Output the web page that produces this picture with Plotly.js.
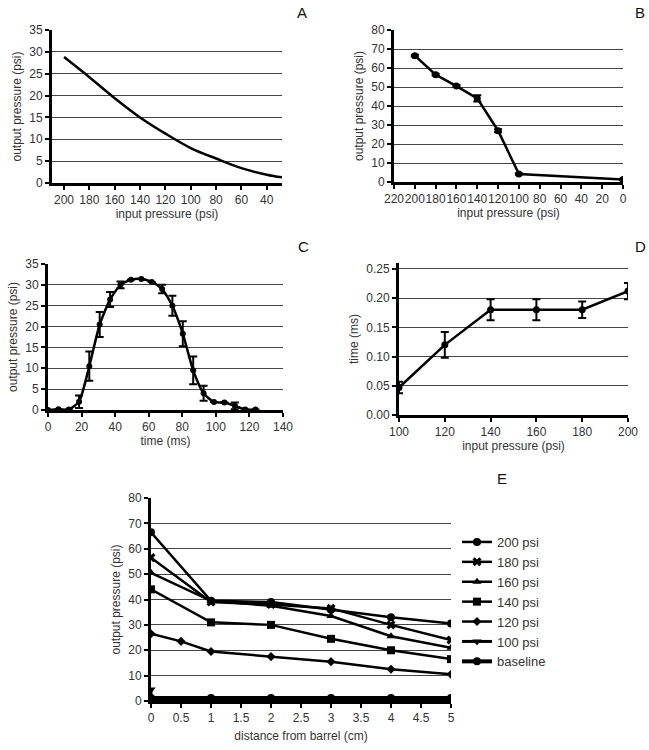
<!DOCTYPE html>
<html>
<head>
<meta charset="utf-8">
<script src="https://cdn.plot.ly/plotly-3.0.1.min.js"></script>
<style>
  body { margin: 0; background: #fff; }
  #chart { width: 649px; height: 750px; }
</style>
</head>
<body>
<div id="chart"></div>
<script>
// panel A: output vs input pressure (fitted curve)
var aInput = [200, 180, 160, 140, 120, 100, 80, 60, 40, 28];
var aOutput = [28.8, 24.2, 19.4, 15.0, 11.3, 8.0, 5.6, 3.4, 1.9, 1.3];

// panel B
var bInput = [200, 180, 160, 140, 120, 100, 0];
var bOutput = [66.5, 56.5, 50.5, 44.0, 27.0, 4.2, 1.3];
var bErr = [0.5, 0.5, 0.5, 1.6, 0.8, 0.4, 0.4];

// panel C: pressure pulse over time
var cTime = [0, 6.2, 12.4, 18.5, 24.6, 30.8, 37.0, 43.2, 49.4, 55.6, 61.8, 68.0, 74.1, 80.3, 86.5, 92.7, 98.9, 105.1, 111.3, 117.5, 123.6];
var cOutput = [0, 0.2, 0.1, 2.0, 10.5, 20.5, 26.5, 30.0, 31.2, 31.4, 30.7, 29.0, 25.0, 18.3, 9.5, 4.0, 1.9, 1.8, 1.0, 0.1, 0.1];
var cErr = [0, 0, 0, 1.5, 3.5, 3.0, 1.8, 0.8, 0, 0, 0, 1.0, 2.4, 3.0, 3.3, 1.8, 0, 0, 0.8, 0, 0];

// panel D: time vs input pressure
var dInput = [100, 120, 140, 160, 180, 200];
var dTime = [0.047, 0.120, 0.180, 0.180, 0.180, 0.212];
var dErr = [0.010, 0.022, 0.018, 0.018, 0.014, 0.014];

// panel E: output pressure vs distance from barrel
var eDist = [0, 1, 2, 3, 4, 5];
var eDist120 = [0, 0.5, 1, 2, 3, 4, 5];
var eDist100 = [0, 0, 1, 2, 3, 4, 5];
var e200 = [66.5, 39.5, 39.0, 36.0, 33.0, 30.5];
var e180 = [56.5, 39.0, 38.0, 36.5, 30.0, 24.0];
var e160 = [50.5, 39.5, 37.5, 33.5, 25.5, 21.0];
var e140 = [44.0, 31.0, 30.0, 24.5, 20.0, 16.5];
var e120 = [26.5, 23.5, 19.5, 17.5, 15.5, 12.5, 10.5];
var e100 = [4.5, 0.5, 0.5, 0.5, 0.5, 0.5, 0.5];
var eBase = [1.2, 1.2, 1.2, 1.2, 1.2, 1.2];

var W = 649, H = 750;
function px(a, b) { return [a / W, b / W]; }
function py(top, bottom) { return [1 - bottom / H, 1 - top / H]; }

var textFont = { family: 'Liberation Sans, Arial, sans-serif', size: 12, color: '#333' };
var lineStyle = { color: '#000', width: 2.5 };

function xAx(domain, range, dtick, anchor, title, standoff) {
    return {
        domain: domain, range: range, dtick: dtick, tick0: 0, anchor: anchor,
        showline: true, linecolor: '#000', linewidth: 3,
        ticks: 'outside', ticklen: 4, tickwidth: 2, tickcolor: '#000',
        showgrid: false, zeroline: false, tickfont: textFont, tickangle: 0,
        title: { text: title, font: textFont, standoff: standoff }
    };
}
function yAx(domain, range, dtick, anchor, title, fmt) {
    return {
        domain: domain, range: range, dtick: dtick, tick0: 0, anchor: anchor,
        showline: true, linecolor: '#000', linewidth: 3,
        ticks: 'outside', ticklen: 4, tickwidth: 2, tickcolor: '#000',
        showgrid: true, gridcolor: '#444', gridwidth: 1, zeroline: false,
        tickfont: textFont, tickformat: fmt || '',
        title: { text: title, font: textFont, standoff: 6 }
    };
}

var data = [
    { x: aInput, y: aOutput, type: 'scatter', mode: 'lines', line: { color: '#000', width: 2.5, shape: 'spline' },
      xaxis: 'x', yaxis: 'y', showlegend: false },
    { x: bInput, y: bOutput, type: 'scatter', mode: 'lines+markers', line: lineStyle,
      marker: { color: '#000', size: 7 }, error_y: { array: bErr, color: '#000', thickness: 2, width: 4 },
      xaxis: 'x2', yaxis: 'y2', showlegend: false },
    { x: cTime, y: cOutput, type: 'scatter', mode: 'lines+markers', line: { color: '#000', width: 2.5, shape: 'spline', smoothing: 0.6 },
      marker: { color: '#000', size: 6 }, error_y: { array: cErr, color: '#000', thickness: 2, width: 4 },
      xaxis: 'x3', yaxis: 'y3', showlegend: false },
    { x: dInput, y: dTime, type: 'scatter', mode: 'lines+markers', line: lineStyle,
      marker: { color: '#000', size: 7 }, error_y: { array: dErr, color: '#000', thickness: 2, width: 4 },
      xaxis: 'x4', yaxis: 'y4', showlegend: false }
];

var eSeries = [
    ['200 psi', eDist, e200, 'circle', 8, 2.5],
    ['180 psi', eDist, e180, 'x', 8, 2.5],
    ['160 psi', eDist, e160, 'triangle-up', 8, 2.5],
    ['140 psi', eDist, e140, 'square', 8, 2.5],
    ['120 psi', eDist120, e120, 'diamond', 7, 2.5],
    ['100 psi', eDist100, e100, 'triangle-down', 8, 3],
    ['baseline', eDist, eBase, 'circle', 8, 4]
];
eSeries.forEach(function (s) {
    data.push({
        name: s[0], x: s[1], y: s[2], type: 'scatter', mode: 'lines+markers',
        line: { color: '#000', width: s[5] },
        marker: { color: '#000', symbol: s[3], size: s[4] },
        xaxis: 'x5', yaxis: 'y5'
    });
});

var layout = {
    width: W, height: H,
    margin: { l: 0, r: 0, t: 0, b: 0 },
    paper_bgcolor: '#fff', plot_bgcolor: '#fff',
    font: textFont,
    xaxis: xAx(px(52, 282), [209.5, 28], 20, 'y', 'input pressure (psi)', 4),
    yaxis: yAx(py(30, 183), [0, 35], 5, 'x', 'output pressure (psi)'),
    xaxis2: xAx(px(394, 623), [220, 0], 20, 'y2', 'input pressure (psi)', 4),
    yaxis2: yAx(py(30, 182), [0, 80], 10, 'x2', 'output pressure (psi)'),
    xaxis3: xAx(px(48, 283), [0, 140], 20, 'y3', 'time (ms)', 4),
    yaxis3: yAx(py(264, 410), [0, 35], 5, 'x3', 'output pressure (psi)'),
    xaxis4: xAx(px(399, 628), [100, 200], 20, 'y4', 'input pressure (psi)', 4),
    yaxis4: yAx(py(263, 415), [0, 0.26], 0.05, 'x4', 'time (ms)', '.2f'),
    xaxis5: xAx(px(151, 451), [0, 5], 0.5, 'y5', 'distance from barrel (cm)', 8),
    yaxis5: yAx(py(498, 701), [0, 80], 10, 'x5', 'output pressure (psi)'),
    showlegend: true,
    legend: {
        x: 457 / W, y: 1 - 527 / H, xanchor: 'left', yanchor: 'top',
        font: { family: 'Liberation Sans, Arial, sans-serif', size: 13, color: '#333' },
        bgcolor: 'rgba(0,0,0,0)', itemwidth: 30, tracegroupgap: 0
    },
    annotations: [
        { text: 'A', x: 302 / W, y: 1 - 13 / H },
        { text: 'B', x: 640 / W, y: 1 - 13 / H },
        { text: 'C', x: 303 / W, y: 1 - 247 / H },
        { text: 'D', x: 640 / W, y: 1 - 247 / H },
        { text: 'E', x: 502 / W, y: 1 - 478 / H }
    ].map(function (a) {
        a.xref = 'paper'; a.yref = 'paper'; a.showarrow = false;
        a.xanchor = 'center'; a.yanchor = 'middle';
        a.font = { family: 'Liberation Sans, Arial, sans-serif', size: 15, color: '#111' };
        return a;
    })
};

Plotly.newPlot('chart', data, layout, { staticPlot: true });
</script>
</body>
</html>
